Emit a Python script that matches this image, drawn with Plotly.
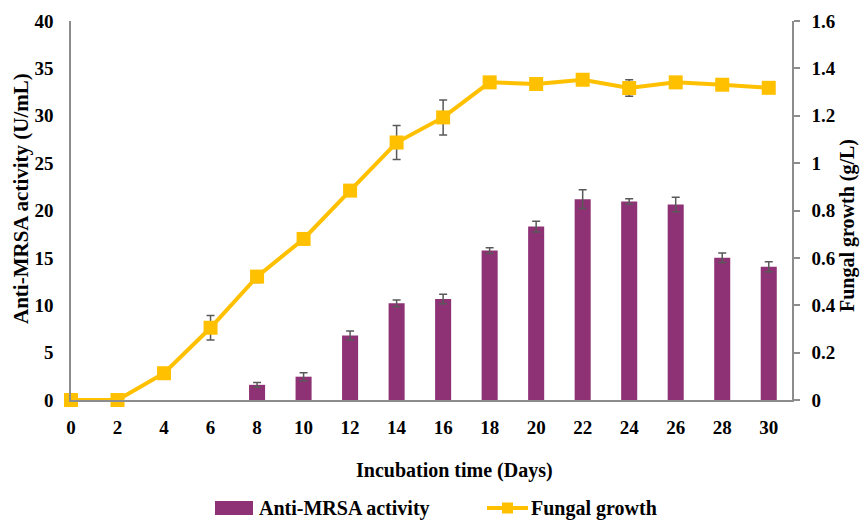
import plotly.graph_objects as go

# Incubation days
days = [0, 2, 4, 6, 8, 10, 12, 14, 16, 18, 20, 22, 24, 26, 28, 30]

# Anti-MRSA activity (U/mL) with SD; no activity before day 8
activity = [None, None, None, None, 1.6, 2.46, 6.82, 10.2, 10.65, 15.77, 18.3, 21.2, 20.96, 20.64, 15.01, 14.06]
activity_sd = [None, None, None, None, 0.25, 0.42, 0.45, 0.35, 0.5, 0.3, 0.56, 1.0, 0.28, 0.77, 0.5, 0.53]

# Fungal growth (g/L) with SD
growth = [0.0, 0.0, 0.113, 0.305, 0.521, 0.68, 0.884, 1.087, 1.193, 1.341, 1.334, 1.352, 1.317, 1.341, 1.331, 1.318]
growth_sd = [None, None, 0.01, 0.052, 0.025, 0.01, 0.01, 0.072, 0.074, 0.01, 0.01, 0.01, 0.035, 0.01, 0.01, 0.01]

left_ticks = [0, 5, 10, 15, 20, 25, 30, 35, 40]
right_ticks = [0, 0.2, 0.4, 0.6, 0.8, 1, 1.2, 1.4, 1.6]
right_tick_text = ["0", "0.2", "0.4", "0.6", "0.8", "1", "1.2", "1.4", "1.6"]

FONT = "Liberation Serif"
BAR_COLOR = "#8E3275"
LINE_COLOR = "#FFC000"
ERR_COLOR = "#595959"
AXIS_COLOR = "#8C8C8C"

# Plot area in pixels (left, right, top, bottom)
PL, PR, PT, PB = 71, 792, 21, 400


def px(x):
    return (x - PL) / (PR - PL)


def py(y):
    return (PB - y) / (PB - PT)


fig = go.Figure()

fig.add_trace(go.Bar(
    x=days, y=activity, name="Anti-MRSA activity",
    marker=dict(color=BAR_COLOR, line=dict(width=0)),
    width=0.69,
    error_y=dict(type="data", array=activity_sd, visible=True,
                 color=ERR_COLOR, thickness=1.5, width=4),
    yaxis="y", showlegend=False,
))

fig.add_trace(go.Scatter(
    x=days, y=growth, name="Fungal growth",
    mode="lines+markers",
    line=dict(color=LINE_COLOR, width=4),
    marker=dict(symbol="square", size=14, color=LINE_COLOR),
    error_y=dict(type="data", array=growth_sd, visible=True,
                 color=ERR_COLOR, thickness=1.5, width=4),
    yaxis="y2", showlegend=False, cliponaxis=False,
))

tick_font = dict(family=FONT, size=19, color="black", weight="bold")
title_font = dict(family=FONT, size=21, color="black", weight="bold")

# Hand-built legend below the axis title
LEG_Y = 508
shapes = [
    dict(type="rect", xref="paper", yref="paper",
         x0=px(215), x1=px(253), y0=py(LEG_Y + 7), y1=py(LEG_Y - 7),
         fillcolor=BAR_COLOR, line=dict(width=0)),
    dict(type="line", xref="paper", yref="paper",
         x0=px(487), x1=px(528), y0=py(LEG_Y), y1=py(LEG_Y),
         line=dict(color=LINE_COLOR, width=4)),
    dict(type="rect", xref="paper", yref="paper",
         x0=px(502), x1=px(513), y0=py(LEG_Y + 5.5), y1=py(LEG_Y - 5.5),
         fillcolor=LINE_COLOR, line=dict(width=0)),
]

fig.update_layout(
    width=860, height=520,
    margin=dict(l=PL, r=860 - PR, t=PT, b=520 - PB),
    plot_bgcolor="white", paper_bgcolor="white",
    font=dict(family=FONT, color="black"),
    showlegend=False,
    xaxis=dict(
        range=[0, 31], tickvals=days, ticktext=[str(d) for d in days],
        showgrid=False, zeroline=False,
        showline=True, linecolor=AXIS_COLOR, linewidth=1.5,
        ticks="", tickfont=tick_font, ticklabelstandoff=9,
    ),
    yaxis=dict(
        range=[0, 40], tickvals=left_ticks,
        showgrid=False, zeroline=False,
        showline=True, linecolor=AXIS_COLOR, linewidth=1.5,
        ticks="", tickfont=tick_font, ticklabelstandoff=12,
    ),
    yaxis2=dict(
        range=[0, 1.6], tickvals=right_ticks, ticktext=right_tick_text,
        overlaying="y", side="right", anchor="x",
        showgrid=False, zeroline=False,
        showline=True, linecolor=AXIS_COLOR, linewidth=1.5,
        ticks="outside", ticklen=6, tickcolor=AXIS_COLOR, tickwidth=1.5,
        tickfont=tick_font, ticklabelstandoff=8,
    ),
    shapes=shapes,
    annotations=[
        dict(text="Incubation time (Days)", xref="paper", yref="paper",
             x=px(454), y=py(470), xanchor="center", yanchor="middle",
             showarrow=False, font=dict(family=FONT, size=20, color="black", weight="bold")),
        dict(text="Anti-MRSA activity (U/mL)", xref="paper", yref="paper",
             x=px(21), y=py(199), xanchor="center", yanchor="middle",
             textangle=-90, showarrow=False, font=title_font),
        dict(text="Fungal growth (g/L)", xref="paper", yref="paper",
             x=px(847), y=py(226), xanchor="center", yanchor="middle",
             textangle=-90, showarrow=False,
             font=dict(family=FONT, size=20, color="black", weight="bold")),
        dict(text="Anti-MRSA activity", xref="paper", yref="paper",
             x=px(257), y=py(LEG_Y), xanchor="left", yanchor="middle",
             showarrow=False, font=dict(family=FONT, size=20, color="black", weight="bold")),
        dict(text="Fungal growth", xref="paper", yref="paper",
             x=px(529), y=py(LEG_Y), xanchor="left", yanchor="middle",
             showarrow=False, font=dict(family=FONT, size=20, color="black", weight="bold")),
    ],
)

fig.write_html("out.html")
